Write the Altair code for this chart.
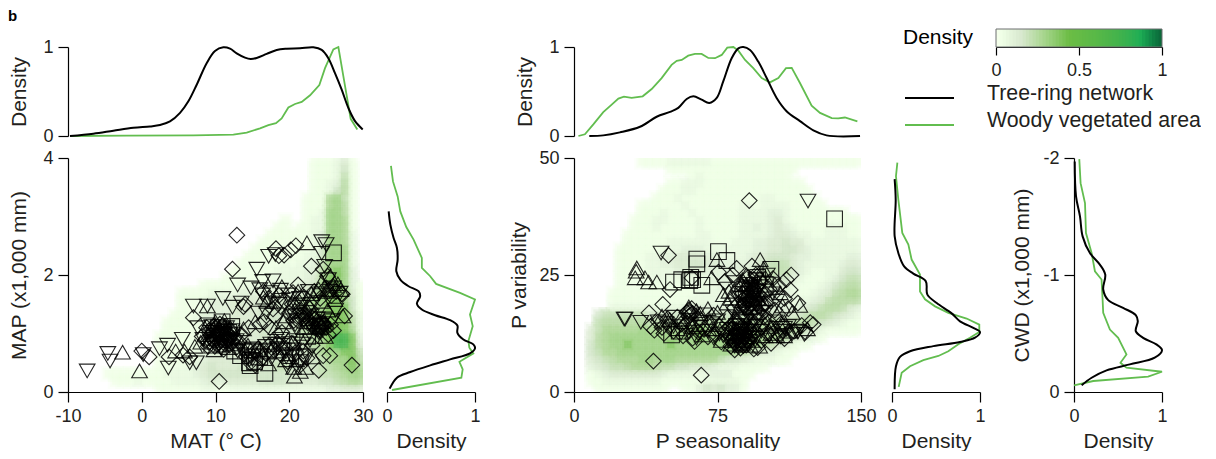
import altair as alt

FONT = "Liberation Sans"
INK = "#231f20"
BLACK = "#000000"
GREEN = "#62bd4f"

# ---- density curves (value, density) ----
MAT_BLACK_X = [-9.73,-6.57,-3.85,-1.14,1.12,2.47,3.83,5.19,6.32,7.45,8.8,9.93,11.06,11.97,12.87,14,14.77,15.58,16.94,18.3,19.65,21.46,23.27,24.4,25.3,26.2,27.11,28.01,28.92,29.96]
MAT_BLACK_D = [0,.026,.06,.093,.108,.123,.164,.26,.39,.576,.818,.955,.996,.981,.929,.881,.866,.877,.922,.967,.981,.985,.996,.967,.874,.706,.52,.316,.167,.074]
MAT_GREEN_X = [-9.73,-2.04,7,12.42,14.23,16.04,17.17,18.2,18.97,19.88,20.78,21.69,22.82,24.08,24.85,25.98,26.66,27.34,28.33,29.23]
MAT_GREEN_D = [0,.004,.007,.015,.037,.086,.123,.145,.197,.32,.36,.383,.457,.572,.762,.974,1,.669,.193,.074]
SEA_BLACK_X = [8,15.3,24,34.5,43.2,50.2,54.5,58.9,62.4,66.7,70.7,74.6,78,82.4,85.9,88.5,92,96.3,100.7,105.9,111.1,118.1,125.1,132,149.5]
SEA_BLACK_D = [0,.007,.041,.104,.216,.271,.316,.416,.446,.409,.372,.428,.613,.874,.985,1,.967,.836,.651,.428,.279,.167,.063,.007,0]
SEA_GREEN_X = [2.3,5.7,10.1,15.3,19.7,23.2,26.1,30.1,35.9,40.6,45.8,51,53.7,56.3,59.7,63.2,66.7,70.2,73.7,77.2,80.1,83.3,85.9,89.4,93.7,98.1,102.4,106.8,110.8,113.8,118.1,124.2,128.6,134.7,138.1,141.6,148.1]
SEA_GREEN_D = [0,.019,.13,.268,.353,.42,.442,.428,.446,.528,.651,.799,.844,.855,.903,.922,.922,.877,.874,.911,.993,1,.959,.855,.762,.651,.602,.651,.762,.766,.595,.342,.26,.201,.197,.208,.164]
MAP_BLACK_Y = [3.087,2.86,2.633,2.462,2.263,2.064,1.922,1.808,1.723,1.638,1.512,1.41,1.313,1.228,1.137,1.012,.898,.813,.745,.66,.557,.455,.341,.244,.057]
MAP_BLACK_D = [.019,.038,.075,.113,.121,.106,.151,.245,.358,.377,.34,.396,.547,.717,.8,.8,.868,.981,1,.943,.717,.491,.264,.113,.03]
MAP_GREEN_Y = [3.866,3.6,3.343,3.087,2.82,2.604,2.291,2.121,1.979,1.848,1.694,1.581,1.325,1.126,.87,.756,.66,.517,.387,.244,.034]
MAP_GREEN_D = [.045,.068,.121,.151,.219,.302,.396,.396,.491,.558,.83,1,.943,.974,.925,.936,.981,.823,.86,.845,.057]
VAR_BLACK_Y = [45.5,41.1,33.3,29.7,26.9,25.3,23.7,20.8,19,16.8,15.1,13.7,12.8,11.6,10.7,9.8,8.7,7.5,5.5,.6]
VAR_BLACK_D = [.03,.042,.03,.072,.136,.242,.383,.402,.508,.678,.773,.924,1,.943,.773,.47,.205,.091,.045,.03]
VAR_GREEN_Y = [49,46.1,41.1,34,31.5,28.3,25.1,21.5,19.8,18.3,16.9,15.7,14.4,12.8,11.6,10.2,8.7,7.7,6.8,5.5,4.1,1.1]
VAR_GREEN_D = [.061,.045,.072,.117,.186,.223,.318,.318,.375,.489,.64,.848,.992,.992,.886,.754,.64,.527,.356,.205,.11,.076]
CWD_BLACK_Y = [-1.97,-1.672,-1.501,-1.33,-1.188,-1.089,-1.004,-.876,-.785,-.719,-.657,-.606,-.52,-.463,-.407,-.358,-.293,-.236,-.185,-.122,-.057]
CWD_BLACK_D = [.008,.023,.068,.098,.181,.294,.355,.332,.389,.558,.702,.725,.702,.785,.936,1,.917,.634,.37,.2,.087]
CWD_GREEN_Y = [-1.99,-1.785,-1.615,-1.359,-1.188,-1.032,-.961,-.79,-.677,-.534,-.463,-.321,-.25,-.208,-.173,-.131,-.094,-.057]
CWD_GREEN_D = [.06,.075,.125,.136,.2,.238,.313,.325,.332,.408,.502,.596,.528,.596,1,.842,.219,0]

# ---- density rasters, top row first; one character per cell ----
HEAT_CODES = {"0":0,"1":.025,"2":.055,"3":.09,"4":.125,"5":.16,"6":.2,"7":.23,"8":.26,"9":.29,"a":.38,"b":.72}
HEAT_MAT = [
"0000000000 0000000000 0000000000 0001112410",
"0000000000 0000000000 0000000000 0001112510",
"0000000000 0000000000 0000000000 0001112610",
"0000000000 0000000000 0000000000 0001123710",
"0000000000 0000000000 0000000000 0001125710",
"0000000000 0000000000 0000000000 0011189610",
"0000000000 0000000000 0000000000 0011189710",
"0000000000 0000000000 0000000000 0011299710",
"0000000000 0000000000 0000000001 0012299810",
"0000000000 0000000000 0000000011 0112299810",
"0000000000 0000000000 0000000111 1112399820",
"0000000000 0000000000 0000001111 1112499820",
"0000000000 0000000000 0000011111 1112599920",
"0000000000 0000000000 0000111111 1122599920",
"0000000000 0000000000 0001111112 1223699920",
"0000000000 0000000000 0011111122 223379a930",
"0000000000 0000000000 0111111222 22348aa930",
"0000000000 0000000011 1112222233 234599a931",
"0000000000 0000011112 2223333344 345799a941",
"0000000000 0000011123 3344444555 56799aa951",
"0000000000 0000011123 3344445555 56789aaa51",
"0000000000 0000111233 3344445555 56789aaa62",
"0000000000 0001111233 3344445555 56789aaa72",
"0000000000 0001111233 3344445555 56789aaa82",
"0000000000 0011111233 3344445555 56679abba3",
"0000000000 0011111233 3344445555 55678abba4",
"0000000000 0011111233 4444445555 4556899aa6",
"0000000000 0011111234 4444445555 44556899a7",
"0000000000 0011112345 4445555566 55556789a8",
"0000011111 1112222345 5555555555 5555667899",
"0000001112 1111222234 3444445555 4444556788",
"0000000000 0011111122 1122222222 2222233444",
]
HEAT_SEA = [
"0000000001 1112222221 1111111111 1111111111",
"0000000000 0001111111 1111111111 1000000000",
"0000000000 0000001211 1111111111 0000000000",
"0000000000 0001122211 1111111111 1100000000",
"0000000000 0011122111 1111111111 1110000000",
"0000000000 0111211111 1111112211 1111000000",
"0000000001 1111121111 1112212222 1111100000",
"0000000001 1121112111 1112222332 1111111100",
"0000000011 1221111211 1112222342 1111111111",
"0000000011 1211111211 1112232343 2111122211",
"0000000111 1111111221 1112222344 3221122211",
"0000000111 1112222221 1122233445 4422222222",
"0000001111 1122233322 2222233445 5432222222",
"0000001111 2233444433 2222344555 4332222233",
"0000001111 2233445544 3333345666 4322222344",
"0000001111 2222344433 3334456666 4321122455",
"0000001111 1222222223 3344456655 3211123566",
"0000001111 1112111222 3334556544 2111235677",
"0000011111 1111111222 2334455433 2112346788",
"0000011111 1111112222 2234444332 2223467777",
"0000022222 2222233333 3334444433 3345677643",
"0005666666 5555555555 5555555555 4567765432",
"0006777777 6666666777 7777777766 6776543211",
"0046888889 8888889a98 8888887777 7654211111",
"0047899999 9999999a99 9999998887 5432100000",
"0057899a99 999a999999 9999997654 2110000000",
"0056889999 9999999999 9987654321 1000000000",
"0045678889 9899888888 6554322211 0000000000",
"0034566788 8766554443 2221111000 0000000000",
"0012344444 4432222223 3311100000 0000000000",
"0011222222 2211111122 2221000000 0000000000",
"0001111111 1110011354 5331000000 0000000000",
]

# ---- sites ----
MAT_DOWN = [(-7.4,.36),(-4.6,.66),(-4.3,.53),(.2,.64),(2.4,.74),(3.5,.8),(3.6,.41),(7,1.47),(8.9,1.47),(7.6,1.1),(11,1.6),(13,1.83),(15.6,2.1),(17.8,1.9),(16.4,1.89),(17.2,2.32),(18.1,2.35),(24.4,2.57),(25,2.52),(24.4,2.37),(24.8,2.15),(25.3,1.92),(26.9,1.69),(26,1.78),(15.8,1.35),(16.9,1.35),(13.5,1.52),(7.4,.5),(6.5,.5),(5.5,.9),(9,1.15),(10.2,1.05),(11.5,1.1),(12.5,.98),(9.6,.85),(10.8,.75),(12,.85),(13.7,.72),(14.6,.55),(15,.72),(16.8,.78),(18.2,.82),(19.3,.72),(20.4,.6),(21.5,.52),(22.5,.62),(21,.88),(18.6,1.5),(19.9,1.66),(21.4,1.6),(23,1.5),(24.1,1.68),(25.5,1.72),(22,1.22),(23.2,1.15),(24.5,1.08),(25.8,1.22),(20.3,1.3),(17.5,1.7),(16,1.75),(14.8,1.78),(12.3,1.45),(8.3,.9),(9.3,1.02),(10.5,.96),(11.3,.9),(13,.7),(14,.62),(16.2,.62),(17.6,.58),(18.8,.9),(19.8,.42),(22.8,.88),(23.8,1.25),(26.3,1.4),
 (9.5,1.12),(10,.98),(10.4,.9),(10.8,1.08),(11.2,1),(11.6,.86),(12.2,1.05),(12.8,.88),(9.2,.9),(14.3,.7),(15,.56),(16.4,.7),(17.5,.82),(18.4,.74),(19.6,.6),(20.6,.72),(21.8,.82),(23,1.3),(24,1.02),(24.8,1.25),(21.6,1.45),(22.4,1.36),(20.8,1.15),(16.4,1.66),(17.6,1.52),(18.8,1.74),(20,1.58),(22.6,1.72)]
MAT_UP = [(-2.6,.68),(-.3,.36),(8.9,1.47),(22.4,2.55),(20.7,.27),(26,1.82),(27,1.75),(25,1.72),(24,1.76),(20.5,.85),(19.5,.55),(21.5,.35),(23.2,.6),(18,1.55),(19,1.8),(21.2,1.72),(22.6,1.5),(24.4,1.88),(25.6,1.98),(26.6,1.85),(27.3,1.3),(22,1.1),(23.5,.95),(21,.55),(22.2,.42),(18.5,.7),(17.2,.48),(16,.72),(14.4,.8),(13,.92),(12,1.1),(11.2,1.22),(10,1.2),(9,.98),(8,.85),(7.2,.78),(5.8,.7),(4.6,.7),(15.4,1.2),(17,1.55),(23,1.68),(25.2,1.4),(19.2,1.2),(20.1,1.45),(24.9,.95),(16.5,1.62),(10.6,.88),(11.8,.76),(9.8,.72),(13.8,1.08),
 (10.2,1.04),(10.8,.8),(11.4,1.06),(9.4,.92),(12.4,.82),(22.5,1.25),(23.6,1.12),(24.6,1.2),(25.3,1.75),(24.5,1.55),(26.2,1.58),(21.4,1.55),(20.6,.42),(19.6,1.3),(18.2,1.1),(20,1.06),(21.7,1.0)]
MAT_DIA = [(12.9,2.68),(12.3,2.1),(10.5,.18),(28.5,.46),(24,.37),(20.9,2.5),(20.2,2.43),(23,2.15),(21.2,1.83),(18.2,2.45),(18.6,2.33),(19.3,2.34),(14,1.5),(13.8,1.46),(7,1.27),(0,.7),(1,.6),(3.7,.6),(5.6,.63),(6.5,.6),(27.5,1.3),(27.2,1.67),(25.5,.62),(8.2,.95),(8.8,1.1),(9.1,.85),(9.4,.98),(9.7,1.12),(9.9,.78),(10.1,.92),(10.3,1.02),(10.5,.84),(10.6,1.16),(10.9,.97),(11.1,.73),(11.2,1.08),(11.4,.88),(11.6,.99),(11.9,.8),(12.1,1.05),(12.4,.91),(12.8,.76),(13.2,.86),(13.5,.98),(14.2,.6),(14.7,.5),(15.1,.66),(15.4,.46),(15.8,.74),(16.3,.58),(16.8,.66),(17.3,.8),(17.9,.72),(18.4,.84),(18.9,.64),(19.4,.76),(19.8,.52),(20.3,.83),(20.9,.68),(21.4,.45),(21.9,.7),(22.4,.58),(23.1,.8),(24.6,.62),(20,1.35),(20.6,1.22),(21,1.3),(21.4,1.4),(21.8,1.24),(22.1,1.33),(22.5,1.18),(23,1.28),(23.4,1.1),(23.7,1.2),(24,1.13),(24.3,1.05),(24.6,1.18),(25,1.1),(25.3,.98),(25.6,1.15),(26,1.05),(16.5,1.72),(17.2,1.6),(17.8,1.42),(18.6,1.65),(19.4,1.55),(20.5,1.7),(22,1.62),(23.4,1.72),(24.2,1.6),(25,1.78),(25.7,1.65),(26.4,1.72),(27.1,1.68),(25.2,1.98),(24.6,2.1),(16.6,1.2),(16,1.15),(14.5,1.1),(17.4,1.1),
 (9.2,1.05),(9.6,.9),(10,1.1),(10.2,.82),(10.4,.98),(10.7,1.05),(10.8,.9),(11,1.14),(11.3,.82),(11.5,1.02),(11.7,.92),(12,.96),(12.2,.86),(9,.78),(8.6,.88),(23.2,1.15),(23.5,1.25),(23.8,1.08),(24.1,1.2),(24.4,1.1),(24.8,1.15),(22.3,1.28),(21.6,1.32),(21.2,1.22),(20.8,1.38),(23.9,1.15),(24.2,1.15),(18,1.3),(19,1.02),(20.4,1.5),(22.8,1.42)]
MAT_SQ = [(26,2.38),(16.7,.32),(14.7,.45),(15,.72),(21.5,.6),(14.6,.5),(15.3,.52),(9.8,1.0),(10.4,1.1),(11,.95),(11.8,1.02),(12.6,.7),(13.4,.62),(19,.78),(20.2,.62),(22.5,.95),(24.2,1.12),(17.2,.7),(16,.6),(12.2,1.12),(10.9,1.2),(9.5,.8)]

SEA_DOWN = [(122.3,40.8),(45.5,29.7),(26.2,15.6),(26.7,15.6),(34.9,14.9),(120.4,12.3),(44,15),(52,16),(61,14.2),(68,16.5),(75,15.2),(78,12),(83,17.2),(86,11),(88,20),(90,15),(92,23),(94,11.5),(96,19),(98,13),(100,17),(102,12),(105,15),(108,13),(112,14),(116,13),(56,12.6),(48,14.6),(70,13),(84,9.8),(87,13.5),(89,17.8),(91,10.2),(93,21),(95,14),(97,22.5),(73,11.5),(64,11.5),(104,21),(80,22),
 (85,11.6),(86,10),(87,12),(88,13),(89,11),(90,12.4),(92,10.8),(94,13),(93,19.5),(94.5,20.5),(96,21.6),(92,22.4),(95,24),(90,22),(91,18.8),(82,11),(80,13.4),(76,12.4),(72,14.6),(66,13.8),(60,12.8),(52,14),(108,11.8),(110,13.6),(114,12.4),(117,12.8),(84,23.4),(106,19.4),(101,25)]
SEA_UP = [(32.8,26.5),(32.5,25.8),(32,24.4),(37.1,24.4),(43.3,23.5),(74.7,28.3),(72,24.4),(97.3,28.3),(78.1,20.8),(107.8,21.2),(81,21.5),(66,16.8),(70,17.8),(75,17),(80,19),(84,16),(86,23),(88,19.5),(90,25),(92,18),(94,14.5),(96,23.5),(98,20),(100,24.5),(103,14),(106,16.5),(110,15),(114,17),(118,18.5),(122,13.5),(58,15),(54,13.5),(50,15.5),(46,16.2),(62,14),(67,12.2),(72,13.5),(77,11),(82,10.2),(85,12.5),(87,10),(89,14),(91,21.5),(93,11),(95,17),(97,9.8),(100,12),(39,23.5),(60,18.2),(64,17.4),
 (84,11),(85,13.5),(86,11.8),(88,10.4),(90,11.8),(92,10),(93,14.5),(94,20),(95,18.8),(96,20),(92,20),(90,23),(88,24),(87,18.5),(94,23),(86,17),(110,12),(113,13),(106,12),(103,12.5),(100,14.5),(82,20),(99,26.4),(105,23),(109,18.4)]
SEA_DIA = [(91.6,40.9),(49.4,29.2),(75.5,25.6),(41.5,6.6),(66.5,3.6),(46.4,18.7),(39.2,16.9),(61.6,24.4),(50.2,21.9),(40,14),(42,13.2),(44,15),(46,13.8),(47,12.5),(49,15.6),(50,14.2),(52,13),(54,16),(56,14.5),(57,12),(59,17),(60,15),(60,17.5),(61,16.5),(62,11.5),(62,14),(63,10.8),(65,12.8),(66,15.5),(68,13.4),(70,11.8),(71,14.8),(73,16.4),(74,12.3),(76,14),(77,10.7),(79,13),(80,15.8),(81,11.5),(82,9.8),(83,13.6),(84,18),(85,11),(85,14.6),(86,20.8),(87,12.5),(87,9.4),(88,16),(88,22.5),(89,10.6),(89,18.5),(90,13.2),(90,20.5),(91,24.5),(92,15),(92,11.8),(93,19),(93,26.9),(94,9.2),(94,22),(95,12.8),(95,20),(96,17),(96,9.5),(97,24),(98,13.8),(98,11),(99,18.8),(100,21),(101,12.6),(102,15),(103,10.4),(104,13.6),(105,17.5),(107,12.2),(108,14.5),(110,11.4),(111,13.6),(112,17.8),(113,21.8),(113.5,25),(115,13),(117,19),(119,14.2),(121,12.8),(123.5,14.8),(125,14.4),(111,24),(84,12),(86,13),(88,11),(90,10),(92,13),(84,9),(94,16),(96,21),(98,18),(86,19),(88,21),(90,18),(82,14),
 (83,11.2),(84.5,13),(85.5,10),(86.5,11.8),(87.5,13.8),(88.5,9.9),(89.5,12.2),(90.5,11),(91.5,13.6),(85,12.6),(87,11),(88,12.4),(82,12.6),(81,13.8),(93,20),(94,21),(95,22.5),(96,19),(97,20.6),(92,19.6),(93,23),(94,24),(95,25),(91,22),(90,16.5),(89,20),(92,17),(97,17),(99,16),(100,19),(60.5,17),(61.5,17.8),(60,16.2),(62,16.8),(102,22),(104,24.2),(107,22.6),(103,19.4),(110,20),(83,25),(79,23.6),(85,26.4)]
SEA_SQ = [(136.2,37),(75.5,30),(79.9,28.1),(64.2,28.4),(64.2,27.4),(52,23.5),(56.3,24),(61,24.5),(62,24),(66.8,22.8),(102.9,26.2),(60.5,23.8),(96,24.5),(100,23),(90,20),(92,21.5),(94,18.5),(85,14),(87,15),(89,12),(55,13),(51,12.2)]

MAT_TICKS = [-10,0,10,20,30]
MAP_TICKS = [0,2,4]
SEA_TICKS = [0,75,150]
VAR_TICKS = [0,25,50]
CWD_TICKS = [-2,-1,0]
DENS_TICKS = [0,1]
BAR_TICKS = [0,.5,1]
BAR_STEPS = [i/50 for i in range(50)]
SERIES = ["Tree-ring network","Woody vegetated area"]

COLOR_SCALE = alt.Scale(domain=[0,.05,.1,.15,.2,.27,.5,.7,.85,1],
    range=["#ffffff","#e2f0da","#bddfab","#98d27e","#7cc75a","#6cbd45","#45b34b","#2fae4e","#1fae55","#0b5f35"])
LABEL = "datum.value + ''"

def ax(values, title=None, pad=None, ticksize=10, **kw):
    args = dict(values=values, title=title, tickSize=ticksize, labelPadding=5, labelExpr=LABEL)
    if pad is not None:
        args["titlePadding"] = pad
    args.update(kw)
    return alt.Axis(**args)

def spacer(w, h):
    return alt.Chart(alt.Data(values=[{"a":1}])).mark_text(text=" ").encode(
        x=alt.value(1), y=alt.value(h/2)).properties(width=w, height=h)

def curve(xs, ys, color, xenc, yenc):
    data = alt.Data(values=[{"x":a,"y":b,"i":i} for i,(a,b) in enumerate(zip(xs,ys))])
    black = color == BLACK
    return alt.Chart(data).mark_line(color=color, strokeWidth=2 if black else 1.8,
        interpolate="catmull-rom" if black else "linear").encode(x=xenc, y=yenc, order="i:Q")

def top_panel(w, dom, bx, bd, gx, gd, pad):
    xe = alt.X("x:Q", scale=alt.Scale(domain=dom), axis=None)
    ye = alt.Y("y:Q", scale=alt.Scale(domain=[0,1]), axis=ax(DENS_TICKS, "Density", pad))
    return alt.layer(curve(gx,gd,GREEN,xe,ye), curve(bx,bd,BLACK,xe,ye)).properties(width=w, height=89)

def side_panel(dom, by, bd, gy, gd, yaxis=None):
    xe = alt.X("x:Q", scale=alt.Scale(domain=[0,1]), axis=ax(DENS_TICKS, "Density", 5))
    ye = alt.Y("y:Q", scale=alt.Scale(domain=dom), axis=yaxis)
    return alt.layer(curve(gd,gy,GREEN,xe,ye), curve(bd,by,BLACK,xe,ye)).properties(width=88, height=234)

def main_panel(w, xdom, ydom, rows, sets, xaxis, yaxis):
    nr, nc = len(rows), 40
    dx = (xdom[1]-xdom[0])/nc
    dy = (ydom[1]-ydom[0])/nr
    xs = alt.Scale(domain=xdom)
    ys = alt.Scale(domain=ydom)
    cells = []
    for r, row in enumerate(rows):
        for c, ch in enumerate(row.replace(" ","")):
            v = HEAT_CODES[ch]
            if v > 0:
                cells.append((v,c,r))
    cells.sort()
    layers = []
    # three nested footprints per raster cell soften the edges of the cells
    for grow, alpha in [(.6,.2),(.3,.3),(0,.5)]:
        vals = [{"x0":xdom[0]+(c-grow)*dx,"x1":xdom[0]+(c+1+grow)*dx,
                 "y1":ydom[1]-(r-grow)*dy,"y0":ydom[1]-(r+1+grow)*dy,"v":v} for v,c,r in cells]
        layers.append(alt.Chart(alt.Data(values=vals)).mark_rect(opacity=alpha, clip=True).encode(
            x=alt.X("x0:Q", scale=xs, axis=xaxis), x2="x1:Q",
            y=alt.Y("y0:Q", scale=ys, axis=yaxis), y2="y1:Q",
            color=alt.Color("v:Q", scale=COLOR_SCALE, legend=None)))
    pts = []
    for k, pairs in sets.items():
        for a, b in pairs:
            pts.append({"x":a,"y":b,"k":k})
    # shapes overlap each other in no particular order in the source
    pts.sort(key=lambda p: (p["x"]*7.3) % 5)
    points = alt.Chart(alt.Data(values=pts)).mark_point(filled=False, stroke="#000000", strokeWidth=1.1, opacity=.85).encode(
        x=alt.X("x:Q", scale=xs, axis=xaxis), y=alt.Y("y:Q", scale=ys, axis=yaxis),
        shape=alt.Shape("k:O", scale=alt.Scale(domain=["a","b","c","d"],
              range=["triangle-down","triangle-up","diamond","square"]), legend=None),
        size=alt.Size("k:O", scale=alt.Scale(domain=["a","b","c","d"], range=[246,246,256,160]), legend=None))
    return alt.layer(*layers, points).properties(width=w, height=234)

panel_b_label = alt.Chart(alt.Data(values=[{"t":"b"}])).mark_text(
    align="left", baseline="middle", fontSize=15, fontWeight="bold", font=FONT, color="#000000").encode(
    x=alt.value(-60), y=alt.value(8), text="t:N").properties(width=295, height=17)

BAR_SCALE = alt.Scale(domain=[0,1], range=[0,166])
BAR_AXIS = alt.Axis(values=BAR_TICKS, title=None, tickSize=8, offset=22, labelPadding=6, labelExpr=LABEL)
bar_cells = alt.Chart(alt.Data(values=[{"v":v,"v2":min(v+.03,1)} for v in BAR_STEPS])).mark_rect().encode(
    x=alt.X("v:Q", scale=BAR_SCALE, axis=BAR_AXIS), x2="v2:Q", y=alt.value(21), y2=alt.value(39),
    color=alt.Color("v:Q", scale=alt.Scale(domain=[0,.1,.2,.28,.5,.7,.84,1],
          range=["#ffffff","#d8e8cf","#a4d48a","#6cbd45","#5bb947","#45b34b","#1fae55","#0b5f35"]), legend=None))
bar_frame = alt.Chart(alt.Data(values=[{"a":0,"b":1}])).mark_rect(fillOpacity=0, stroke="#6d6e71", strokeWidth=1).encode(
    x=alt.X("a:Q", scale=BAR_SCALE, axis=BAR_AXIS), x2="b:Q", y=alt.value(21), y2=alt.value(39))
bar_title = alt.Chart(alt.Data(values=[{"t":"Density"}])).mark_text(
    align="left", baseline="middle", fontSize=21, font=FONT, color="#000000").encode(
    x=alt.value(-93), y=alt.value(30), text="t:N")
color_bar = alt.layer(bar_cells, bar_frame, bar_title).properties(width=78, height=17)

def legend_row(name, color, y):
    line = alt.Chart(alt.Data(values=[{"n":name}])).mark_rule(color=color, strokeWidth=2).encode(
        x=alt.value(-169), x2=alt.value(-120), y=alt.value(y+4))
    txt = alt.Chart(alt.Data(values=[{"n":name}])).mark_text(
        align="left", baseline="middle", fontSize=21.3, font=FONT, color=INK).encode(
        x=alt.value(-87), y=alt.value(y), text="n:N")
    return [line, txt]

legend_cell = alt.layer(*legend_row(SERIES[0],"#000000",47), *legend_row(SERIES[1],GREEN,74)).properties(width=88, height=89)

top_a = top_panel(295,[-10,30],MAT_BLACK_X,MAT_BLACK_D,MAT_GREEN_X,MAT_GREEN_D,13)
top_b = top_panel(287,[0,150],SEA_BLACK_X,SEA_BLACK_D,SEA_GREEN_X,SEA_GREEN_D,13)

main_a = main_panel(295,[-10,30],[0,4],HEAT_MAT,{"a":MAT_DOWN,"b":MAT_UP,"c":MAT_DIA,"d":MAT_SQ},
    ax(MAT_TICKS,"MAT (° C)",5), ax(MAP_TICKS,"MAP (x1,000 mm)",13))
main_b = main_panel(287,[0,150],[0,50],HEAT_SEA,{"a":SEA_DOWN,"b":SEA_UP,"c":SEA_DIA,"d":SEA_SQ},
    ax(SEA_TICKS,"P seasonality",5), ax(VAR_TICKS,"P variability",9))
side_a = side_panel([0,4],MAP_BLACK_Y,MAP_BLACK_D,MAP_GREEN_Y,MAP_GREEN_D)
side_b = side_panel([0,50],VAR_BLACK_Y,VAR_BLACK_D,VAR_GREEN_Y,VAR_GREEN_D)
side_c = side_panel([0,-2],CWD_BLACK_Y,CWD_BLACK_D,CWD_GREEN_Y,CWD_GREEN_D,
    ax(CWD_TICKS,"CWD (x1,000 mm)",10))

cells = [
    panel_b_label, spacer(24,17), spacer(88,17), spacer(99,17), spacer(287,17), spacer(31,17), spacer(88,17), spacer(16,17), color_bar, spacer(88,17),
    top_a, spacer(24,89), spacer(88,89), spacer(99,89), top_b, spacer(31,89), spacer(88,89), spacer(16,89), spacer(78,89), legend_cell,
    main_a, spacer(24,234), side_a, spacer(99,234), main_b, spacer(31,234), side_b, spacer(16,234), spacer(78,234), side_c,
]

chart = alt.concat(*cells, columns=10, spacing=alt.RowColnumber(row=22, column=0), bounds="flush", align="none").properties(
    padding={"left":0,"top":0,"right":0,"bottom":0}
).configure_view(stroke=None).configure_axis(
    grid=False, labelFont=FONT, titleFont=FONT, labelFontSize=18, titleFontSize=21, titleFontWeight="normal",
    labelColor=INK, titleColor=INK, domainColor="#000000", tickColor="#000000", domainWidth=1.2, tickWidth=1.2,
    labelOverlap=False, labelFlush=False)

chart.save("out.html", embed_options={"renderer":"svg","actions":False})
